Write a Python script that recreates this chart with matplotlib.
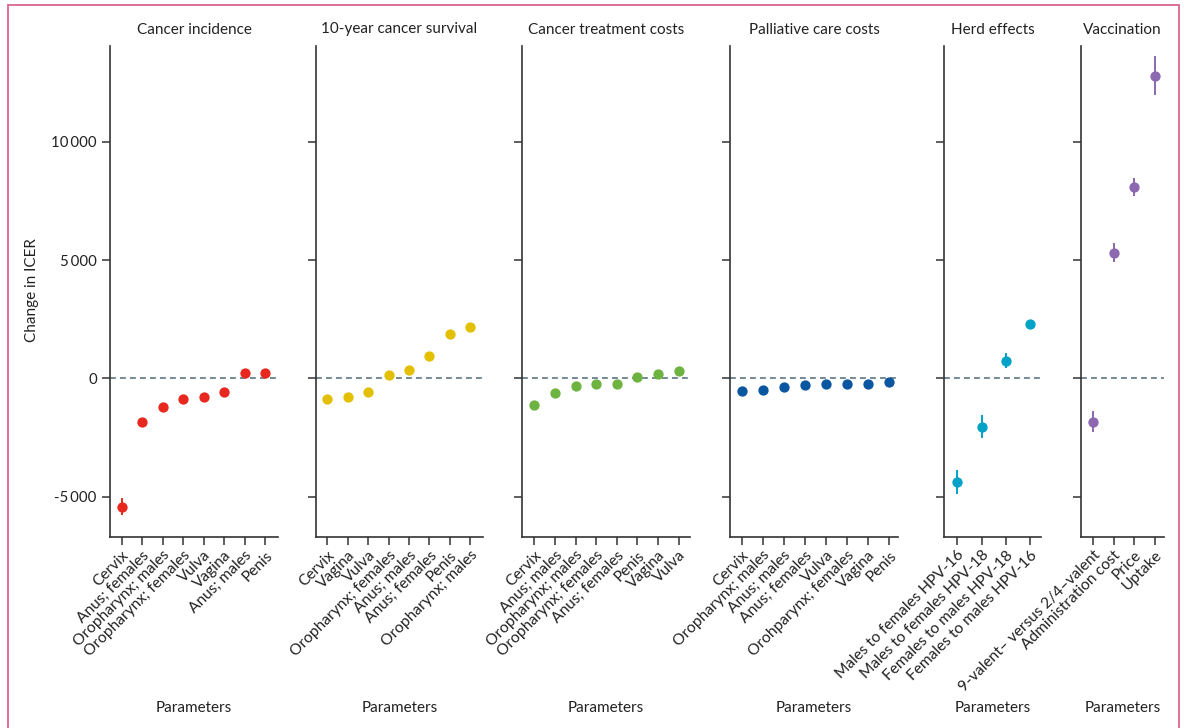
import matplotlib
matplotlib.use('Agg')
import matplotlib.pyplot as plt
from matplotlib.patches import Rectangle
from matplotlib.ticker import FuncFormatter

plt.rcParams['font.family'] = ['Lato', 'DejaVu Sans']

titles = ['Cancer incidence', '10-year cancer survival', 'Cancer treatment costs',
          'Palliative care costs', 'Herd effects', 'Vaccination']

incidence_labels = ['Cervix', 'Anus; females', 'Oropharynx; males', 'Oropharynx; females',
                    'Vulva', 'Vagina', 'Anus; males', 'Penis']
incidence_vals = [-5420, -1840, -1200, -880, -790, -570, 210, 250]
incidence_err = [350, 0, 0, 0, 0, 0, 0, 0]

survival_labels = ['Cervix', 'Vagina', 'Vulva', 'Oropharynx; females', 'Anus; males',
                   'Anus; females', 'Penis', 'Oropharynx; males']
survival_vals = [-860, -790, -580, 130, 370, 960, 1860, 2170]
survival_err = [0, 0, 0, 0, 0, 0, 0, 0]

treatment_labels = ['Cervix', 'Anus; males', 'Oropharynx; males', 'Oropharynx; females',
                    'Anus; females', 'Penis', 'Vagina', 'Vulva']
treatment_vals = [-1110, -630, -310, -250, -240, 60, 190, 330]
treatment_err = [0, 0, 0, 0, 0, 0, 0, 0]

palliative_labels = ['Cervix', 'Oropharynx; males', 'Anus; males', 'Anus; females', 'Vulva',
                     'Orohparynx; females', 'Vagina', 'Penis']
palliative_vals = [-520, -490, -350, -280, -240, -240, -225, -140]
palliative_err = [0, 0, 0, 0, 0, 0, 0, 0]

herd_labels = ['Males to females HPV-16', 'Males to females HPV-18',
               'Females to males HPV-18', 'Females to males HPV-16']
herd_vals = [-4380, -2040, 750, 2310]
herd_err = [500, 480, 320, 0]

vacc_labels = ['9-valent– versus 2/4–valent', 'Administration cost', 'Price', 'Uptake']
vacc_vals = [-1820, 5320, 8090, 12790]
vacc_err = [430, 390, 380, 830]

colors = ['#e8281e', '#e2c000', '#6db33f', '#0a56a0', '#00a2c7', '#8c68b0']

panels = [
    (incidence_labels, incidence_vals, incidence_err),
    (survival_labels, survival_vals, survival_err),
    (treatment_labels, treatment_vals, treatment_err),
    (palliative_labels, palliative_vals, palliative_err),
    (herd_labels, herd_vals, herd_err),
    (vacc_labels, vacc_vals, vacc_err),
]

W, H = 1184, 728
# panel extents in pixels (left, right) and the category padding on each side
extents = [(110, 278, 0.57, 0.62), (316, 483, 0.55, 0.62), (522, 690, 0.6, 0.55),
           (730, 898, 0.55, 0.42), (944, 1041, 0.54, 0.44), (1081, 1164, 0.58, 0.45)]
top, bottom = 46, 537

fig = plt.figure(figsize=(W / 100, H / 100), dpi=100)

fmt = FuncFormatter(lambda v, p: f'{int(v):,}'.replace(',', '\u2009'))

for i, ((labels, vals, err), (x0, x1, lpad, rpad)) in enumerate(zip(panels, extents)):
    ax = fig.add_axes([x0 / W, 1 - bottom / H, (x1 - x0) / W, (bottom - top) / H])
    x = list(range(len(labels)))
    ax.axhline(0, color='#5b7585', lw=1.2, ls=(0, (3.5, 2.5)), zorder=1)
    ax.errorbar(x, vals, yerr=err, fmt='o', color=colors[i], ms=6.4, elinewidth=1.4,
                capsize=0, zorder=3)
    ax.set_xlim(-lpad, len(labels) - 1 + rpad)
    ax.set_ylim(-6700, 14050)
    ax.set_yticks([-5000, 0, 5000, 10000])
    ax.yaxis.set_major_formatter(fmt)
    ax.set_xticks(x)
    ax.set_xticklabels(labels, rotation=45, ha='right', rotation_mode='anchor', fontsize=11.2,
                       color='#222222')
    for s in ['top', 'right']:
        ax.spines[s].set_visible(False)
    for s in ['left', 'bottom']:
        ax.spines[s].set_color('#333333')
        ax.spines[s].set_linewidth(1.2)
    ax.tick_params(axis='both', length=6, width=1.1, color='#333333',
                   labelcolor='#222222')
    ax.tick_params(axis='y', labelsize=10.8)
    ax.tick_params(axis='x', pad=2)
    if i > 0:
        ax.tick_params(axis='y', labelleft=False)
    ax.set_title(titles[i], fontsize=11, color='#222222', pad=9)
    ax.set_xlabel('Parameters', fontsize=11, color='#222222')
    ax.xaxis.set_label_coords(0.5, -(701 - bottom) / (bottom - top))

fig.text(32 / W, 1 - 290 / H, 'Change in ICER', rotation=90, ha='center', va='center',
         fontsize=11, color='#222222')

fig.patches.append(Rectangle((8 / W, -0.05), (1179 - 8) / W, 1.05 - 5.5 / H,
                             transform=fig.transFigure, fill=False, edgecolor='#d8668c',
                             lw=1.3))

fig.savefig('out.png', dpi=100)
